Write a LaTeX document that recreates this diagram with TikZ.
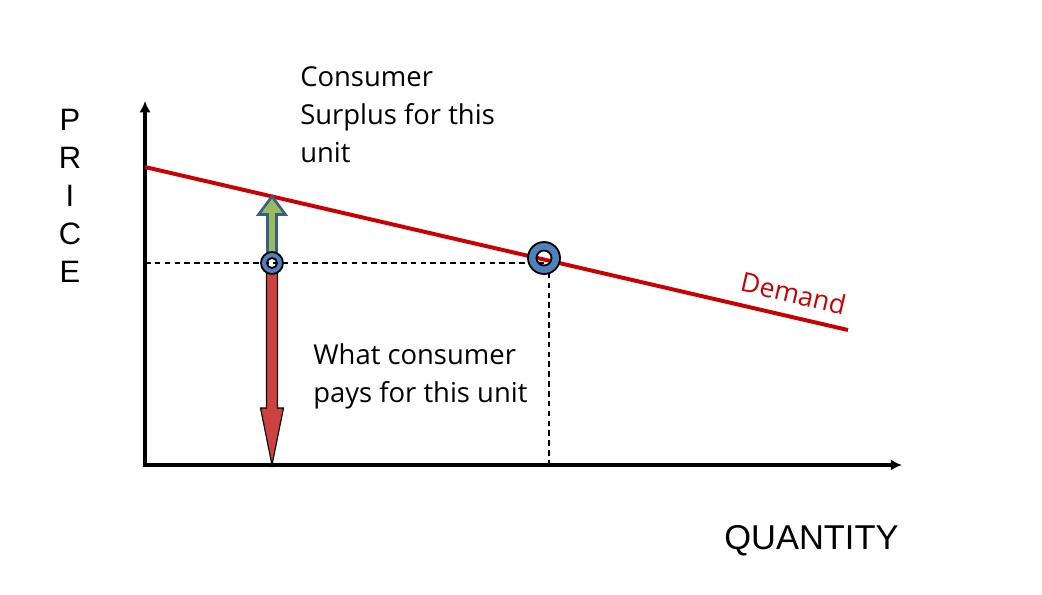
\documentclass[tikz,border=0pt]{standalone}
\usepackage{fontspec}
\setmainfont{Open Sans}
\newfontfamily\axisfont{Liberation Sans}
\usetikzlibrary{arrows.meta,calc}

\definecolor{demandred}{RGB}{204,0,0}
\definecolor{ringblue}{RGB}{79,129,189}
\definecolor{edgeblue}{RGB}{56,93,138}
\definecolor{surplusgreen}{RGB}{155,187,89}
\definecolor{payred}{RGB}{205,65,65}

\begin{document}
\begin{tikzpicture}[x=0.025cm,y=-0.025cm,>=Latex,
	axis/.style={line width=2.8pt,-{Latex[length=8pt,width=8pt]}},
	guide/.style={line width=0.9pt,dash pattern=on 4pt off 3pt},
	ring/.style={fill=ringblue,draw=black,line width=1.3pt,even odd rule},
	note/.style={font=\fontsize{19.5}{27}\selectfont,align=left,inner sep=0pt}]
			
			\useasboundingbox (0,0) rectangle (1042,594);
			
			% axes
			\coordinate (o) at (145,465);
			\coordinate (ytop) at (145,101);
			\coordinate (xend) at (902,465);
			\draw[axis] ($(o)+(0,2)$) -- (ytop);
			\draw[axis] ($(o)+(-2,0)$) -- (xend);
			
			\node[font=\axisfont\fontsize{22}{27}\selectfont,align=center,inner sep=0pt] (price) at (70,195.5){P\\R\\I\\C\\E};
			\node[font=\axisfont\fontsize{24.5}{28}\selectfont,anchor=base,inner sep=0pt] (quantity) at (811.5,549){QUANTITY};
			
			% demand curve
			\coordinate (d0) at (145,167);
			\coordinate (d2) at (848,330);
			\draw[demandred,line width=2.8pt] (d0) -- (d2)
				node[pos=0.915,above=8pt,sloped,font=\fontsize{19}{20}\selectfont,inner sep=0pt] (demand){Demand};
			
			% points on the curve
			\coordinate (p1) at (272,263);
			\coordinate (d1) at (272,196.5);
			\coordinate (a1) at (272,465);
			\coordinate (p2) at (544,258);
			\coordinate (c2) at (549,263);
			
			\draw[guide] (o |- c2) -- (c2);
			\draw[guide] (c2) -- (c2 |- o);
			
			% what is paid
			\filldraw[payred,draw=black,line width=0.8pt] ($(p1)+(-5.5,9)$) -- ($(a1)+(-5.5,-57)$) -- ($(a1)+(-11.5,-57)$) -- (a1)
				-- ($(a1)+(11.5,-57)$) -- ($(a1)+(5.5,-57)$) -- ($(p1)+(5.5,9)$) -- cycle;
			
			% surplus
			\filldraw[surplusgreen,draw=edgeblue,line width=1.8pt,line join=miter] ($(p1)+(-4.5,-10)$) -- ($(d1)+(-4.5,18)$) -- ($(d1)+(-13.5,18)$) -- (d1)
				-- ($(d1)+(13.5,18)$) -- ($(d1)+(4.5,18)$) -- ($(p1)+(4.5,-10)$) -- cycle;
			
			\filldraw[ring] (p1) circle (11) (p1) circle (5);
			\filldraw[ring] (p2) circle (16) (p2) circle (7.5);
			
			\node[note,anchor=north west] (surplus) at (300,66){Consumer\\Surplus for this\\unit};
			\node[note,anchor=north west] (pays) at (313,343){What consumer\\pays for this unit};
			
		\end{tikzpicture}
\end{document}
